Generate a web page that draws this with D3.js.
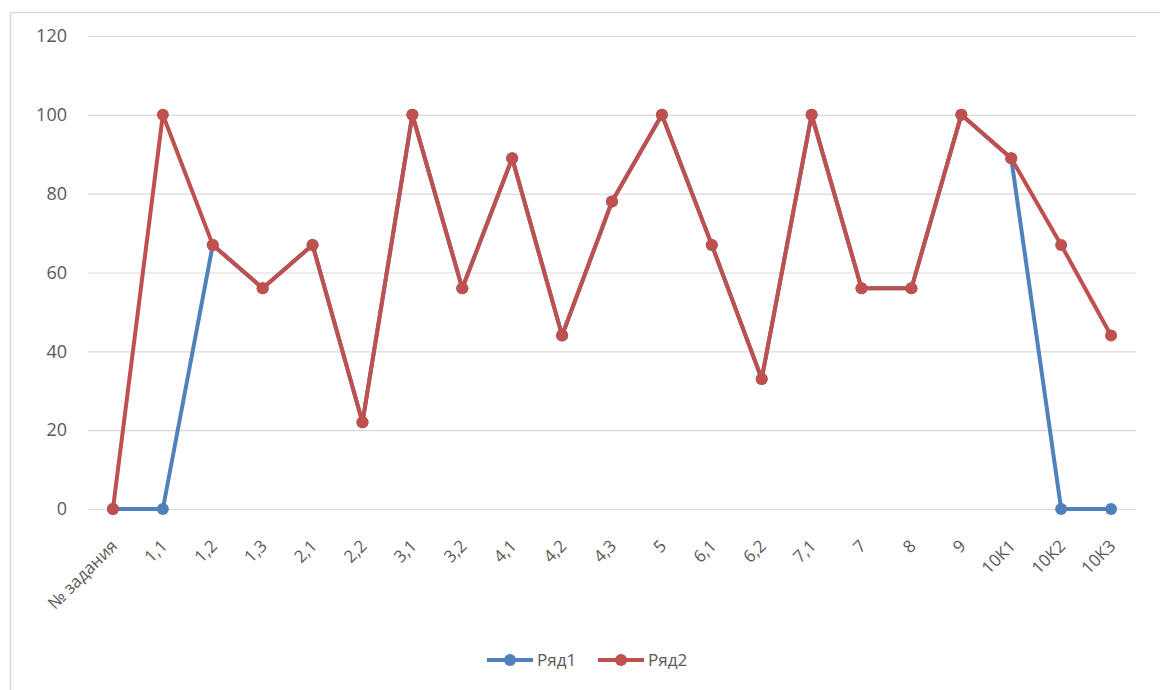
<!DOCTYPE html>
<html>
<head>
<meta charset="utf-8">
<script src="https://cdn.jsdelivr.net/npm/d3@7"></script>
<style>
body{margin:0;background:#fff;}
svg{display:block;font-family:"Open Sans","Noto Sans",sans-serif;}
</style>
</head>
<body>
<script>
// chart data
var categories = ["№ задания","1,1","1,2","1,3","2,1","2,2","3,1","3,2","4,1","4,2","4,3","5","6,1","6,2","7,1","7","8","9","10К1","10К2","10К3"];
var series1 = [0,0,67,56,67,22,100,56,89,44,78,100,67,33,100,56,56,100,89,0,0];
var series2 = [0,100,67,56,67,22,100,56,89,44,78,100,67,33,100,56,56,100,89,67,44];
var seriesNames = ["Ряд1","Ряд2"];
var seriesColors = ["#4f81bd","#c0504d"];
var yTicks = [0,20,40,60,80,100,120];

var w = 1160, h = 690;
var svg = d3.select("body").append("svg")
	.attr("width", w)
	.attr("height", h);

//outer chart border
svg.append("rect")
	.attr("x", 10.5).attr("y", 12.5)
	.attr("width", 1200).attr("height", 800)
	.attr("fill", "#fff")
	.attr("stroke", "#d9d9d9")
	.attr("stroke-width", 1.5);

//plot area
var plotL = 88, plotR = 1136, plotT = 36, plotB = 509;

var x = d3.scalePoint()
	.domain(categories)
	.range([plotL, plotR])
	.padding(0.5);

var y = d3.scaleLinear()
	.domain([0, 120])
	.range([plotB, plotT]);

//gridlines + y labels
var yAxis = d3.axisLeft(y)
	.tickValues(yTicks)
	.tickSize(-(plotR - plotL))
	.tickPadding(21);

var gy = svg.append("g")
	.attr("transform", "translate(" + plotL + ",0)")
	.call(yAxis)
	.attr("font-family", null)
	.attr("font-size", null);
gy.select(".domain").remove();
gy.selectAll("line").attr("stroke", "#d9d9d9").attr("stroke-width", 1.2);
gy.selectAll("text")
	.attr("fill", "#595959")
	.style("font-size", "18px");

//x labels, rotated
var xAxis = d3.axisBottom(x).tickSize(0).tickPadding(0);
var gx = svg.append("g")
	.attr("transform", "translate(0," + plotB + ")")
	.call(xAxis)
	.attr("font-family", null)
	.attr("font-size", null);
gx.select(".domain").remove();
gx.selectAll("text")
	.attr("fill", "#595959")
	.style("font-size", "17px")
	.attr("text-anchor", "end")
	.attr("dy", null)
	.attr("y", 0)
	.attr("transform", "translate(5,38) rotate(-45)");

//lines and markers
var data = [series1, series2];
var line = d3.line()
	.x(function(d, i){ return x(categories[i]); })
	.y(function(d){ return y(d); });

data.forEach(function(s, k){
	svg.append("path")
		.datum(s)
		.attr("d", line)
		.attr("fill", "none")
		.attr("stroke", seriesColors[k])
		.attr("stroke-width", 4)
		.attr("stroke-linejoin", "round");
	svg.selectAll(".m" + k)
		.data(s)
		.enter()
		.append("circle")
		.attr("class", "m" + k)
		.attr("cx", function(d, i){ return x(categories[i]); })
		.attr("cy", function(d){ return y(d); })
		.attr("r", 6)
		.attr("fill", seriesColors[k]);
});

//legend
var legendX = [487, 598];
seriesNames.forEach(function(name, k){
	var g = svg.append("g").attr("transform", "translate(" + legendX[k] + ",660)");
	g.append("line")
		.attr("x1", 0).attr("x2", 46)
		.attr("stroke", seriesColors[k])
		.attr("stroke-width", 4);
	g.append("circle")
		.attr("cx", 23).attr("r", 6)
		.attr("fill", seriesColors[k]);
	g.append("text")
		.attr("x", 50).attr("y", 6)
		.attr("fill", "#595959")
		.style("font-size", "17px")
		.text(name);
});
</script>
</body>
</html>
